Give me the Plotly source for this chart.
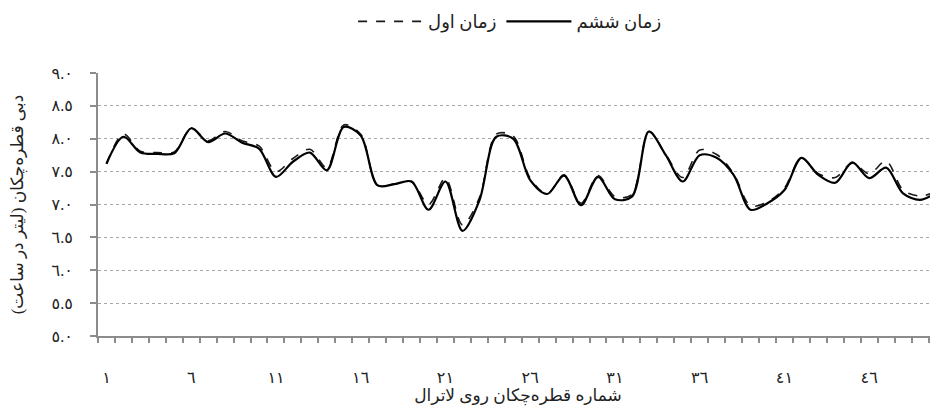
import plotly.graph_objects as go

# dripper number along the lateral
drippers = list(range(1, 51))

# discharge (L/h) – first time (dashed)
time_first = [7.62, 8.07, 7.81, 7.79, 7.80, 8.16, 7.97, 8.11, 7.97, 7.89,
              7.50, 7.70, 7.84, 7.56, 8.21, 8.07, 7.29, 7.31, 7.35, 7.00,
              7.40, 6.69, 7.10, 8.07, 8.04, 7.40, 7.16, 7.45, 7.02, 7.44,
              7.12, 7.15, 8.11, 7.76, 7.41, 7.83, 7.76, 7.47, 6.98, 7.04,
              7.25, 7.71, 7.47, 7.41, 7.63, 7.47, 7.66, 7.22, 7.13, 7.20]

# discharge (L/h) – sixth time (solid)
time_sixth = [7.62, 8.03, 7.79, 7.77, 7.78, 8.16, 7.95, 8.08, 7.94, 7.85,
              7.42, 7.65, 7.79, 7.52, 8.18, 8.05, 7.29, 7.31, 7.35, 6.92,
              7.35, 6.60, 7.06, 8.03, 8.00, 7.37, 7.16, 7.44, 6.99, 7.42,
              7.08, 7.12, 8.11, 7.75, 7.35, 7.75, 7.71, 7.45, 6.92, 7.02,
              7.22, 7.71, 7.45, 7.33, 7.64, 7.40, 7.56, 7.17, 7.07, 7.19]

series_names = ["زمان اول", "زمان ششم"]

x_label_vals = [1, 6, 11, 16, 21, 26, 31, 36, 41, 46]
y_tick_vals = [5.0, 5.5, 6.0, 6.5, 7.0, 7.5, 8.0, 8.5, 9.0]

x_title = "شماره قطره‌چکان روی لاترال"
y_title = "دبی قطره‌چکان (لیتر در ساعت)"

AR = str.maketrans("0123456789", "٠١٢٣٤٥٦٧٨٩")
x_label_text = [str(v).translate(AR) for v in x_label_vals]
y_tick_text = [f"{v:.1f}".translate(AR) for v in y_tick_vals]

FONT = "Liberation Serif, DejaVu Sans, serif"
AXC = "#8c8c8c"

fig = go.Figure()
fig.add_trace(go.Scatter(
    x=drippers, y=time_first, name=series_names[0], mode="lines",
    line=dict(color="#1a1a1a", width=1.6, dash="dash", shape="spline", smoothing=0.9),
))
fig.add_trace(go.Scatter(
    x=drippers, y=time_sixth, name=series_names[1], mode="lines",
    line=dict(color="#000000", width=2.2, shape="spline", smoothing=0.9),
))

fig.update_layout(
    width=930, height=404,
    margin=dict(l=90, r=0, t=65, b=76, autoexpand=False),
    paper_bgcolor="white", plot_bgcolor="white",
    font=dict(family=FONT, size=15, color="#222"),
    showlegend=True,
    legend=dict(orientation="h", x=0.49, xanchor="center", y=1.195, yanchor="middle",
                font=dict(size=18), traceorder="normal", itemwidth=65),
)

fig.update_xaxes(
    range=[0.5, 50.06], automargin=False,
    tickmode="array", tickvals=x_label_vals, ticktext=x_label_text,
    ticks="", tickfont=dict(size=16, color="#222"),
    ticklabelstandoff=26,
    showgrid=False, zeroline=False,
    showline=True, linecolor=AXC, linewidth=2,
    minor=dict(tickmode="linear", tick0=0.5, dtick=1, ticks="outside",
               ticklen=5, tickwidth=1.5, tickcolor=AXC, showgrid=False),
    title=dict(text=x_title, font=dict(size=17), standoff=0),
)

fig.update_yaxes(
    range=[5.0, 9.0], automargin=False,
    tickmode="array", tickvals=y_tick_vals, ticktext=y_tick_text,
    ticks="outside", ticklen=6, tickwidth=1.5, tickcolor=AXC,
    tickfont=dict(size=16, color="#222"),
    ticklabelstandoff=14,
    showgrid=True, gridcolor="#a6a6a6", griddash="dot", gridwidth=1,
    zeroline=False,
    showline=True, linecolor=AXC, linewidth=2,
    title=dict(text=y_title, font=dict(size=17), standoff=26),
)

fig.write_html("out.html")
